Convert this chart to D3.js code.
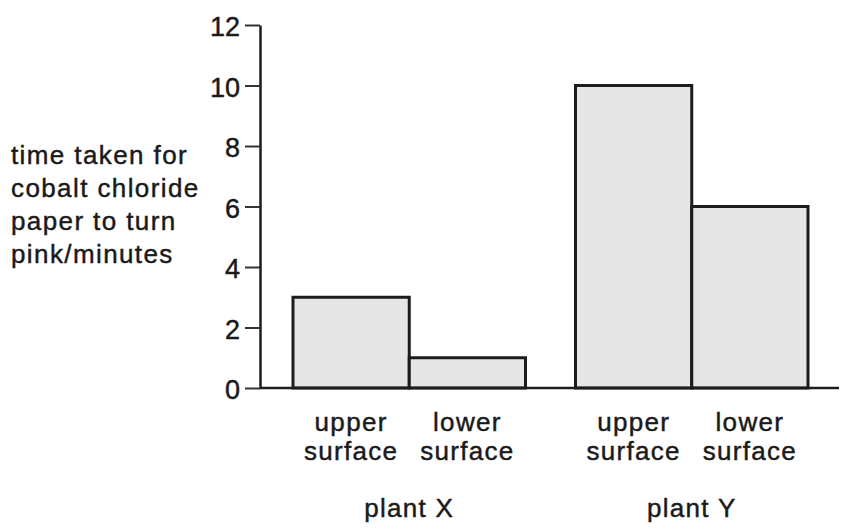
<!DOCTYPE html>
<html>
<head>
<meta charset="utf-8">
<script src="https://cdn.jsdelivr.net/npm/d3@7"></script>
<style>
  body { margin: 0; background: #fff; }
  text { font-family: "Liberation Sans", Arial, sans-serif; fill: #1a1a1a; stroke: #1a1a1a; stroke-width: 0.45px; }
</style>
</head>
<body>
<div id="canvas"></div>
<script>
"use strict"

/* Data */
let plants = ["plant X", "plant Y"];
let surfaces = ["upper surface", "lower surface"];
let plantXTimes = [3, 1];   // minutes
let plantYTimes = [10, 6];
let yTicks = [0, 2, 4, 6, 8, 10, 12];
let yLabelLines = ["time taken for", "cobalt chloride", "paper to turn", "pink/minutes"];

/* Drawing config */
let svgWidth = 851;
let svgHeight = 531;
let axisX = 260;
let fontSize = 26;

let svg = d3.select("#canvas")
    .append("svg")
    .attr("width", svgWidth)
    .attr("height", svgHeight);

let dataset = [];
plants.forEach((p, i) => {
    let vals = i === 0 ? plantXTimes : plantYTimes;
    surfaces.forEach((s, j) => dataset.push({ plant: p, surface: s, time: vals[j] }));
});

/* Scales */
let yScale = d3.scaleLinear()
    .domain([0, 12])
    .range([388, 25]);

let xGroup = d3.scaleBand()
    .domain(plants)
    .range([293, 808])
    .paddingInner(0.177);

let xBar = d3.scaleBand()
    .domain(surfaces)
    .range([0, xGroup.bandwidth()]);

/* Bars */
svg.selectAll("rect.bar")
    .data(dataset)
    .join("rect")
    .attr("class", "bar")
    .attr("x", d => xGroup(d.plant) + xBar(d.surface))
    .attr("y", d => yScale(d.time))
    .attr("width", xBar.bandwidth())
    .attr("height", d => yScale(0) - yScale(d.time))
    .attr("fill", "#e6e6e6")
    .attr("stroke", "#1c1c1c")
    .attr("stroke-width", 3);

/* y axis */
let yAxis = svg.append("g")
    .attr("transform", "translate(" + axisX + ",0)")
    .call(d3.axisLeft(yScale)
        .tickValues(yTicks)
        .tickSize(15)
        .tickSizeOuter(0)
        .tickPadding(5));

yAxis.select(".domain")
    .attr("stroke", "#1c1c1c")
    .attr("stroke-width", 2.5);
yAxis.selectAll(".tick line")
    .attr("stroke", "#333")
    .attr("stroke-width", 2);
yAxis.selectAll(".tick text")
    .attr("font-size", 27)
    .attr("font-family", "Liberation Sans, Arial, sans-serif")
    .attr("fill", "#1a1a1a")
    .attr("dy", "0.4em");

/* baseline (x axis) */
svg.append("line")
    .attr("x1", axisX)
    .attr("x2", 839)
    .attr("y1", yScale(0))
    .attr("y2", yScale(0))
    .attr("stroke", "#1c1c1c")
    .attr("stroke-width", 2.5);

/* y axis title */
svg.append("g")
    .selectAll("text")
    .data(yLabelLines)
    .join("text")
    .attr("x", 11)
    .attr("y", (d, i) => 163.5 + i * 33)
    .attr("font-size", fontSize)
    .attr("letter-spacing", 1.4)
    .text(d => d);

/* bar category labels (two lines each) */
let catLabels = svg.selectAll("text.cat")
    .data(dataset)
    .join("text")
    .attr("class", "cat")
    .attr("text-anchor", "middle")
    .attr("font-size", fontSize)
    .attr("letter-spacing", 1.3);

catLabels.append("tspan")
    .attr("x", d => xGroup(d.plant) + xBar(d.surface) + xBar.bandwidth() / 2)
    .attr("y", 431)
    .text(d => d.surface.split(" ")[0]);

catLabels.append("tspan")
    .attr("x", d => xGroup(d.plant) + xBar(d.surface) + xBar.bandwidth() / 2)
    .attr("y", 460)
    .text(d => d.surface.split(" ")[1]);

/* plant group labels */
svg.selectAll("text.plant")
    .data(plants)
    .join("text")
    .attr("class", "plant")
    .attr("x", d => xGroup(d) + xGroup.bandwidth() / 2)
    .attr("y", 517)
    .attr("text-anchor", "middle")
    .attr("font-size", fontSize)
    .attr("letter-spacing", 1.3)
    .text(d => d);
</script>
</body>
</html>
